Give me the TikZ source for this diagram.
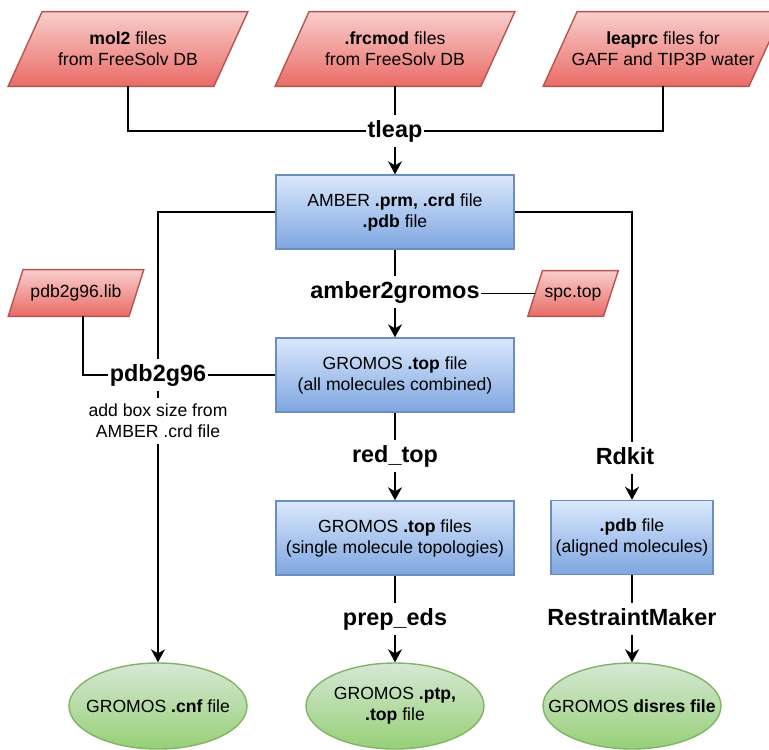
\documentclass[tikz,border=0pt]{standalone}
\usepackage{fontspec}
\setmainfont{Liberation Sans}
\usetikzlibrary{positioning, shapes.geometric, arrows.meta, calc, backgrounds}

\definecolor{redtop}{HTML}{F8CECC}
\definecolor{redbot}{HTML}{EA6B66}
\definecolor{redline}{HTML}{B85450}
\definecolor{bluetop}{HTML}{DAE8FC}
\definecolor{bluebot}{HTML}{7EA6E0}
\definecolor{blueline}{HTML}{6C8EBF}
\definecolor{greentop}{HTML}{D5E8D4}
\definecolor{greenbot}{HTML}{97D077}
\definecolor{greenline}{HTML}{82B366}

\begin{document}
\begin{tikzpicture}[
    x=0.5pt, y=-0.5pt,
    every node/.style={font=\fontsize{8.8}{10.5}\selectfont, align=center},
    infile/.style={rectangle, minimum width=102.5pt, minimum height=37pt, inner sep=0pt},
    para/.style={draw=redline, line width=0.7pt, top color=redtop, bottom color=redbot},
    datafile/.style={rectangle, draw=blueline, line width=0.7pt,
        top color=bluetop, bottom color=bluebot,
        minimum width=119pt, minimum height=37pt, inner sep=0pt},
    result/.style={ellipse, draw=greenline, line width=0.7pt,
        top color=greentop, bottom color=greenbot,
        minimum width=89pt, minimum height=43pt, inner sep=0pt},
    tool/.style={font=\fontsize{11.7}{14}\selectfont\bfseries,
        inner xsep=0.5pt, inner ysep=1pt, text height=10pt, text depth=4pt},
    link/.style={line width=0.75pt},
    arrow/.style={->, line width=0.75pt, >={Stealth[length=6.5pt, width=7pt, inset=2pt]}}
]
\useasboundingbox (0,0) rectangle (769,749);

% --- Input files for tleap ---
\node[infile] (mol2) at (128,49) {\textbf{mol2} files\\from FreeSolv DB};
\node[infile] (frcmod) at (395,49) {\textbf{.frcmod} files\\from FreeSolv DB};
\node[infile] (leaprc) at (663,49) {\textbf{leaprc} files for\\GAFF and TIP3P water};
\node[tool] (tleap) at (395,131) {tleap};

% --- AMBER and GROMOS topologies ---
\node[datafile] (amber) at (395,212) {AMBER \textbf{.prm, .crd} file\\\textbf{.pdb} file};
\node[tool] (a2g) at (395,292) {amber2gromos};
\node[infile, minimum width=37.5pt, minimum height=22.5pt] (spc) at (573,293.5) {spc.top};
\node[datafile] (gtop) at (395,375) {GROMOS \textbf{.top} file\\(all molecules combined)};
\node[tool] (redtop) at (395,456) {red\_top};
\node[datafile] (single) at (395,538) {GROMOS \textbf{.top} files\\(single molecule topologies)};
\node[tool] (prepeds) at (395,619) {prep\_eds};

% --- Coordinates (left branch) ---
\node[infile, minimum width=60pt, minimum height=23pt] (lib) at (76,293) {pdb2g96.lib};
\node[tool] (p2g) at (158,375) {pdb2g96};
\node[inner xsep=1pt, inner ysep=2.8pt] (boxnote) at (158,421) {add box size from\\AMBER .crd file};

% --- Aligned structures (right branch) ---
\node[tool] (rdkit) at (625,458) {Rdkit};
\node[datafile, minimum width=81pt] (aligned) at (632,537.5) {\textbf{.pdb} file\\(aligned molecules)};
\node[tool] (rmaker) at (632,619) {RestraintMaker};

% --- Outputs ---
\node[result] (cnf) at (158,706) {\makebox[0pt]{GROMOS \textbf{.cnf} file}};
\node[result] (ptp) at (395,706) {\makebox[0pt]{GROMOS \textbf{.ptp,}}\\\makebox[0pt]{\textbf{.top} file}};
\node[result] (disres) at (632,706) {\makebox[0pt]{GROMOS \textbf{disres file}}};

% --- Slanted outlines of the input files ---
\begin{scope}[on background layer]
\draw[para] ([xshift=-8.5pt]mol2.south west) -- ([xshift=-8.5pt]mol2.south east) -- ([xshift=8.5pt]mol2.north east) -- ([xshift=8.5pt]mol2.north west) -- cycle;
\draw[para] ([xshift=-8.5pt]frcmod.south west) -- ([xshift=-8.5pt]frcmod.south east) -- ([xshift=8.5pt]frcmod.north east) -- ([xshift=8.5pt]frcmod.north west) -- cycle;
\draw[para] ([xshift=-8.5pt]leaprc.south west) -- ([xshift=-8.5pt]leaprc.south east) -- ([xshift=8.5pt]leaprc.north east) -- ([xshift=8.5pt]leaprc.north west) -- cycle;
\draw[para] ([xshift=-3.7pt]lib.south west) -- ([xshift=-3.7pt]lib.south east) -- ([xshift=3.7pt]lib.north east) -- ([xshift=3.7pt]lib.north west) -- cycle;
\draw[para] ([xshift=-3.7pt]spc.south west) -- ([xshift=-3.7pt]spc.south east) -- ([xshift=3.7pt]spc.north east) -- ([xshift=3.7pt]spc.north west) -- cycle;
\end{scope}

% --- Connectors ---
\draw[link] (mol2.south) |- (tleap.west);
\draw[link] (leaprc.south) |- (tleap.east);
\draw[link] (frcmod.south) -- (tleap.north);
\draw[arrow] (tleap.south) -- (amber.north);

\draw[link] (amber.south) -- (a2g.north);
\draw[link] (spc.west) -- (spc.west -| a2g.east);
\draw[arrow] (a2g.south) -- (gtop.north);

\draw[link] (gtop.south) -- (redtop.north);
\draw[arrow] (redtop.south) -- (single.north);
\draw[link] (single.south) -- (prepeds.north);
\draw[arrow] (prepeds.south) -- (ptp.north);

\draw[link] (amber.west) -| (p2g.north);
\draw[link] ([xshift=3.5pt]lib.south) |- (p2g.west);
\draw[link] (gtop.west) -- (p2g.east);
\draw[link] (p2g.south) -- (boxnote.north);
\draw[arrow] (boxnote.south) -- (cnf.north);

\draw[link] (amber.east) -| (aligned.north |- rdkit.north);
\draw[arrow] (aligned.north |- rdkit.south) -- (aligned.north);
\draw[link] (aligned.south) -- (rmaker.north);
\draw[arrow] (rmaker.south) -- (disres.north);

\end{tikzpicture}
\end{document}
